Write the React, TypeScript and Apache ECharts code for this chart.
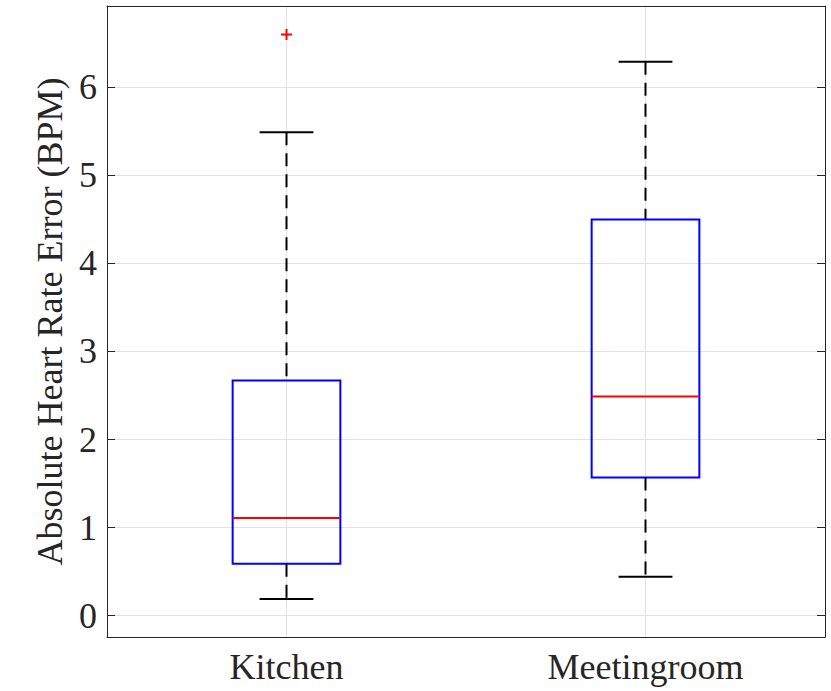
import React, { useEffect, useRef } from "react";
import * as echarts from "echarts";

const categories = ["Kitchen", "Meetingroom"];
const whiskerLow = [0.19, 0.44];
const quartile1 = [0.59, 1.57];
const medians = [1.11, 2.49];
const quartile3 = [2.67, 4.5];
const whiskerHigh = [5.49, 6.29];
const outlierCategory = [0];
const outlierValue = [6.6];
const yMin = -0.243;
const yMax = 6.924;

const FONT = "Liberation Serif";
const TXT = "#262626";
const GRID = "#e2e2e2";
const FS = 36;

export default function App() {
  const ref = useRef<HTMLDivElement>(null);
  useEffect(() => {
    document.body.style.margin = "0";
    const chart = echarts.init(ref.current!, null, { renderer: "svg" });
    const boxData = categories.map((_, i) => [
      i,
      whiskerLow[i],
      quartile1[i],
      medians[i],
      quartile3[i],
      whiskerHigh[i],
    ]);
    const outData = outlierCategory.map((c, i) => [c, outlierValue[i]]);
    const intLabel = (v: number) =>
      Math.abs(v - Math.round(v)) < 1e-6 ? String(Math.round(v)) : "";
    chart.setOption({
      animation: false,
      grid: { left: 107, top: 6, right: 6, bottom: 54 },
      xAxis: [
        {
          type: "category",
          data: categories,
          position: "bottom",
          boundaryGap: true,
          axisLine: { show: true, onZero: false, lineStyle: { color: TXT, width: 1 } },
          axisTick: { inside: true, alignWithLabel: true, length: 7, lineStyle: { color: TXT } },
          axisLabel: { fontFamily: FONT, fontSize: FS, color: TXT, margin: 12 },
          splitLine: { show: true, alignWithLabel: true, lineStyle: { color: GRID } },
        },
        {
          type: "category",
          data: categories,
          position: "top",
          boundaryGap: true,
          axisLine: { show: true, onZero: false, lineStyle: { color: TXT, width: 1 } },
          axisTick: { inside: true, alignWithLabel: true, length: 7, lineStyle: { color: TXT } },
          axisLabel: { show: false },
          splitLine: { show: false },
        },
      ],
      yAxis: [
        {
          type: "value",
          min: yMin,
          max: yMax,
          splitNumber: 7,
          minInterval: 1,
          maxInterval: 1,
          position: "left",
          axisLine: { show: true, onZero: false, lineStyle: { color: TXT, width: 1 } },
          axisTick: { show: true, inside: true, length: 8, lineStyle: { color: TXT } },
          axisLabel: {
            fontFamily: FONT,
            fontSize: FS,
            color: TXT,
            margin: 10,
            formatter: intLabel,
            showMinLabel: false,
            showMaxLabel: false,
          },
          splitLine: { show: true, lineStyle: { color: GRID } },
          name: "Absolute Heart Rate Error (BPM)",
          nameLocation: "middle",
          nameGap: 36,
          nameTextStyle: { fontFamily: FONT, fontSize: FS, color: TXT },
        },
        {
          type: "value",
          min: yMin,
          max: yMax,
          splitNumber: 7,
          minInterval: 1,
          maxInterval: 1,
          position: "right",
          axisLine: { show: true, onZero: false, lineStyle: { color: TXT, width: 1 } },
          axisTick: { show: true, inside: true, length: 8, lineStyle: { color: TXT } },
          axisLabel: { show: false },
          splitLine: { show: false },
        },
      ],
      series: [
        {
          type: "custom",
          xAxisIndex: 0,
          yAxisIndex: 0,
          data: boxData,
          encode: { x: 0, y: [1, 2, 3, 4, 5] },
          renderItem: (params: any, api: any) => {
            const idx = api.value(0);
            const pLo = api.coord([idx, api.value(1)]);
            const pQ1 = api.coord([idx, api.value(2)]);
            const pMed = api.coord([idx, api.value(3)]);
            const pQ3 = api.coord([idx, api.value(4)]);
            const pHi = api.coord([idx, api.value(5)]);
            const band = api.size([1, 0])[0];
            const bw = band * 0.3;
            const cw = bw / 2;
            const x = pLo[0];
            const dash = { stroke: "#000", lineWidth: 2, lineDash: [13, 8], fill: null };
            const solid = { stroke: "#000", lineWidth: 2, fill: null };
            return {
              type: "group",
              children: [
                { type: "line", shape: { x1: x, y1: pHi[1], x2: x, y2: pQ3[1] }, style: dash },
                { type: "line", shape: { x1: x, y1: pQ1[1], x2: x, y2: pLo[1] }, style: dash },
                { type: "line", shape: { x1: x - cw / 2, y1: pHi[1], x2: x + cw / 2, y2: pHi[1] }, style: solid },
                { type: "line", shape: { x1: x - cw / 2, y1: pLo[1], x2: x + cw / 2, y2: pLo[1] }, style: solid },
                {
                  type: "rect",
                  shape: { x: x - bw / 2, y: pQ3[1], width: bw, height: pQ1[1] - pQ3[1] },
                  style: { stroke: "#0000ff", lineWidth: 2, fill: null },
                },
                {
                  type: "line",
                  shape: { x1: x - bw / 2, y1: pMed[1], x2: x + bw / 2, y2: pMed[1] },
                  style: { stroke: "#ff0000", lineWidth: 2 },
                },
              ],
            };
          },
        },
        {
          type: "custom",
          xAxisIndex: 0,
          yAxisIndex: 0,
          data: outData,
          encode: { x: 0, y: 1 },
          renderItem: (params: any, api: any) => {
            const p = api.coord([api.value(0), api.value(1)]);
            const h = 5.5;
            const st = { stroke: "#ff0000", lineWidth: 2 };
            return {
              type: "group",
              children: [
                { type: "line", shape: { x1: p[0] - h, y1: p[1], x2: p[0] + h, y2: p[1] }, style: st },
                { type: "line", shape: { x1: p[0], y1: p[1] - h, x2: p[0], y2: p[1] + h }, style: st },
              ],
            };
          },
        },
      ],
    });
    return () => chart.dispose();
  }, []);
  return <div ref={ref} style={{ width: 831, height: 691 }} />;
}
